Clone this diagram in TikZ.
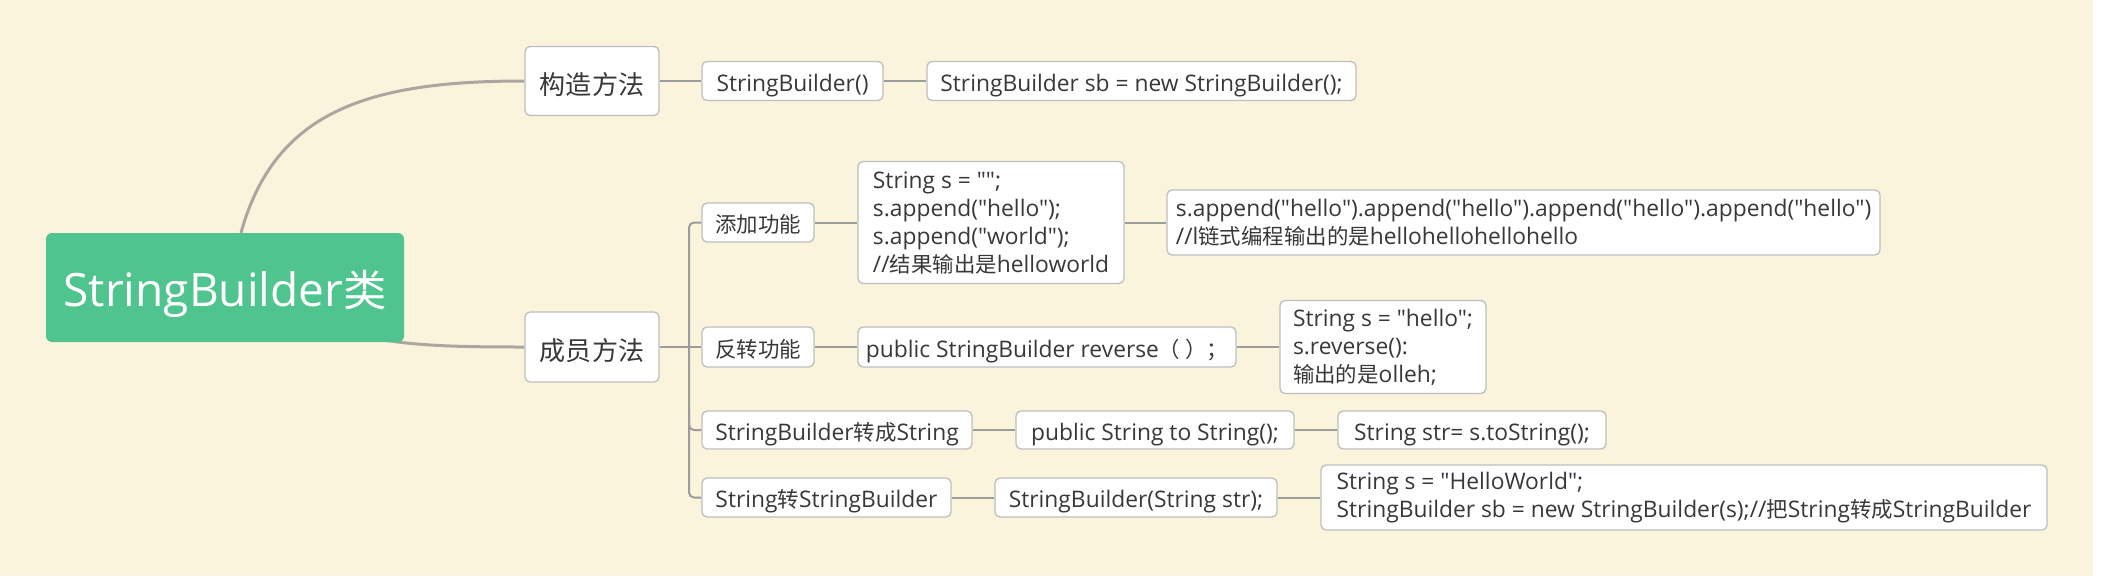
\documentclass[tikz,border=0pt]{standalone}
\usepackage{fontspec}
\setmainfont{Open Sans}[Ligatures=TeXOff]
\newfontfamily\zhfont[Scale=0.94]{Noto Sans CJK SC}
\newcommand\zh[1]{{\zhfont #1}}
\usetikzlibrary{calc}
\definecolor{bgc}{HTML}{FBF4DD}
\definecolor{rootc}{HTML}{50C48F}
\definecolor{boxline}{HTML}{BEBEBE}
\definecolor{txt}{HTML}{383838}
\definecolor{linec}{HTML}{9C9C9C}
\definecolor{curvec}{HTML}{ABA69F}
\pgfdeclarelayer{bgl}
\pgfdeclarelayer{wires}
\pgfsetlayers{bgl,wires,main}
\tikzset{
  box/.style={draw=boxline, fill=white, rounded corners=5pt, line width=1.3pt,
    text=txt, font=\fontsize{22.8}{28}\selectfont, inner sep=0pt, align=left},
  oneline/.style={box, text height=21pt, text depth=1pt},
  topic/.style={box, font=\fontsize{27.7}{32}\selectfont, text height=27pt, text depth=1pt},
  rootbox/.style={fill=rootc, rounded corners=6pt, text=white,
    font=\fontsize{46}{50}\selectfont, inner sep=0pt,
    text height=40pt, text depth=2pt,
    minimum width=358, minimum height=109},
  conn/.style={draw=linec, line width=2pt},
  mainline/.style={draw=curvec, line width=3pt},
}
\begin{document}
\begin{tikzpicture}[x=1pt,y=-1pt]
\begin{pgfonlayer}{bgl}
\fill[white] (0,0) rectangle (2106,579);
\fill[bgc] (0,0) rectangle (2093,576);
\end{pgfonlayer}
\useasboundingbox (0,0) rectangle (2106,579);

\node[rootbox] (root) at (225,287.5) {StringBuilder\zh{类}};

\node[topic, minimum width=134, minimum height=69] (gz) at (592,81) {\zh{构造方法}};
\node[topic, minimum width=134, minimum height=70] (cy) at (592,347) {\zh{成员方法}};

\node[oneline, minimum width=181, minimum height=39] (sb0) at (792.5,81) {StringBuilder()};
\node[oneline, minimum width=429, minimum height=39] (sb1) at (1141.5,81) {StringBuilder sb = new StringBuilder();};

\node[oneline, minimum width=112, minimum height=39] (tj) at (758,222.5) {\zh{添加功能}};
\node[box, minimum width=266, minimum height=122] (tj1) at (991,222.5)
  {String s = "";\\s.append("hello");\\s.append("world");\\//\zh{结果输出是}helloworld};
\node[box, minimum width=713, minimum height=65] (tj2) at (1523.5,222.5)
  {s.append("hello").append("hello").append("hello").append("hello")\\//l\zh{链式编程输出的是}hellohellohellohello};

\node[oneline, minimum width=112, minimum height=40] (fz) at (758,347) {\zh{反转功能}};
\node[oneline, minimum width=378, minimum height=40] (fz1) at (1047,347) {public StringBuilder reverse\zh{（ ）；}};
\node[box, minimum width=206, minimum height=93] (fz2) at (1383,347)
  {String s = "hello";\\s.reverse():\\\zh{输出的是}olleh;};

\node[oneline, minimum width=270, minimum height=38] (zs) at (837,430) {StringBuilder\zh{转成}String};
\node[oneline, minimum width=278, minimum height=38] (zs1) at (1155,430) {public String to String();};
\node[oneline, minimum width=268, minimum height=38] (zs2) at (1472,430) {String str= s.toString();};

\node[oneline, minimum width=249, minimum height=39] (zb) at (826.5,497.5) {String\zh{转}StringBuilder};
\node[oneline, minimum width=282, minimum height=39] (zb1) at (1136,497.5) {StringBuilder(String str);};
\node[box, minimum width=726, minimum height=65] (zb2) at (1684,497.5)
  {String s = "HelloWorld";\\StringBuilder sb = new StringBuilder(s);//\zh{把}String\zh{转成}StringBuilder};

\coordinate (bx) at (689,347);

\begin{pgfonlayer}{wires}
\draw[mainline] ($(root.north)+(16,0)$) .. controls (275,110) and (370,81) .. (gz.west);
\draw[mainline] ($(root.south east)+(-60,-10)$) .. controls (400,346) and (450,347) .. (cy.west);

\draw[conn] (gz.east) -- (sb0.west);
\draw[conn] (sb0.east) -- (sb1.west);
\draw[conn] (cy.east) -- (fz.west);
\draw[conn, rounded corners=5pt] (tj.west) -- (tj.west -| bx) -- (zb.west -| bx) -- (zb.west);
\draw[conn, rounded corners=5pt] ($(zs.west -| bx)+(0,-20)$) -- (zs.west -| bx) -- (zs.west);

\draw[conn] (tj.east) -- (tj1.west);
\draw[conn] (tj1.east) -- (tj2.west);
\draw[conn] (fz.east) -- (fz1.west);
\draw[conn] (fz1.east) -- (fz2.west);
\draw[conn] (zs.east) -- (zs1.west);
\draw[conn] (zs1.east) -- (zs2.west);
\draw[conn] (zb.east) -- (zb1.west);
\draw[conn] (zb1.east) -- (zb2.west);
\end{pgfonlayer}
\end{tikzpicture}
\end{document}
